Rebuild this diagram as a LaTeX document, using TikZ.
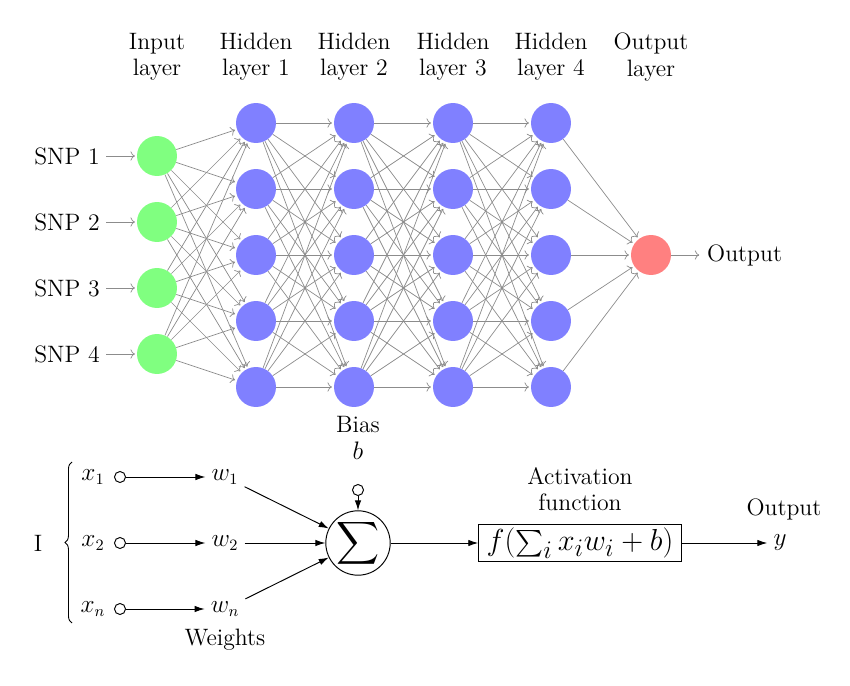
\documentclass[tikz,border=0pt]{standalone}
\usepackage{amsmath,amssymb}
\usepackage{tikz}
\usetikzlibrary{arrows.meta,calc,decorations.pathreplacing}

\tikzset{
  neuron/.style={circle, minimum size=0.8cm, inner sep=0pt},
  inneuron/.style={neuron, fill=green!50},
  hidneuron/.style={neuron, fill=blue!50},
  outneuron/.style={neuron, fill=red!50},
  link/.style={->, black!45, shorten >=1pt},
  txt/.style={font=\fontsize{13.5}{15}\selectfont, align=center},
  arr/.style={-{Latex[length=2mm,width=1.3mm]}, line width=0.55pt},
  dot/.style={draw, circle, inner sep=0pt, minimum size=0.22cm, line width=0.55pt},
}

\begin{document}
\begin{tikzpicture}[x=0.02cm, y=-0.02cm]
    \useasboundingbox (0,0) rectangle (850,686);

    % layer titles
    \node[txt] (tin) at (157,57) {Input\\layer};
    \node[txt] (th1) at (256,57) {Hidden\\layer 1};
    \node[txt] (th2) at (354,57) {Hidden\\layer 2};
    \node[txt] (th3) at (453,57) {Hidden\\layer 3};
    \node[txt] (th4) at (551,57) {Hidden\\layer 4};
    \node[txt] (tout) at (651,57) {Output\\layer};

    % input layer
    \foreach \i/\y in {1/156,2/222,3/288,4/354} {
      \node[inneuron] (i\i) at (157,\y) {};
      \node[txt, anchor=east] (snp\i) at (106,\y) {SNP \i};
      \draw[link] (snp\i) to (i\i);
    }

    % hidden layers
    \foreach \l/\x in {1/256,2/354,3/453,4/551}
      \foreach \j/\y in {1/123,2/189,3/255,4/321,5/387}
        \node[hidneuron] (h\l-\j) at (\x,\y) {};

    % output layer
    \node[outneuron] (o) at (651,255) {};
    \node[txt, anchor=west] (out) at (701,255) {Output};

    % connections
    \foreach \i in {1,...,4}
      \foreach \j in {1,...,5}
        \draw[link] (i\i) to (h1-\j);
    \foreach \l/\m in {1/2,2/3,3/4}
      \foreach \j in {1,...,5}
        \foreach \k in {1,...,5}
          \draw[link] (h\l-\j) to (h\m-\k);
    \foreach \j in {1,...,5}
      \draw[link] (h4-\j) to (o);
    \draw[link] (o) to (out);

    % single neuron
    \node[txt] (bias) at (358,438) {Bias\\$b$};
    \node[dot] (bdot) at (358,490) {};
    \node[draw, circle, minimum size=1.2cm, inner sep=0pt, line width=0.55pt,
          font=\fontsize{17}{20}\selectfont] (sum) at (358,543) {$\displaystyle\sum$};
    \draw[arr] (bdot) to (sum);

    \node[txt] (inp) at (38,543) {I};
    \foreach \k/\y in {1/477,2/543,n/609} {
      \node[txt] (x\k) at (93,\y) {$x_\k$};
      \node[dot] (c\k) at (120,\y) {};
      \node[txt] (w\k) at (225,\y) {$w_\k$};
      \draw[arr] (c\k) to (w\k);
      \draw[arr] (w\k) to (sum);
    }
    \draw[decorate, decoration={brace, amplitude=4pt}, line width=0.5pt]
      (72,623) to (72,462);
    \node[txt] (wts) at (225,640) {Weights};

    \node[txt] (actl) at (580,489) {Activation\\function};
    \node[draw, line width=0.6pt, inner ysep=1.5pt, inner xsep=4.5pt,
          font=\fontsize{18.9}{22}\selectfont] (act) at (580,543)
          {$f(\mathop{\scalebox{0.8}{$\sum$}}\nolimits_i x_i w_i + b)$};
    \draw[arr] (sum) to (act);
    \node[txt] (y) at (780,543) {$y$};
    \node[txt] (outl) at (784,509) {Output};
    \draw[arr] (act) to (y);
  \end{tikzpicture}
\end{document}
